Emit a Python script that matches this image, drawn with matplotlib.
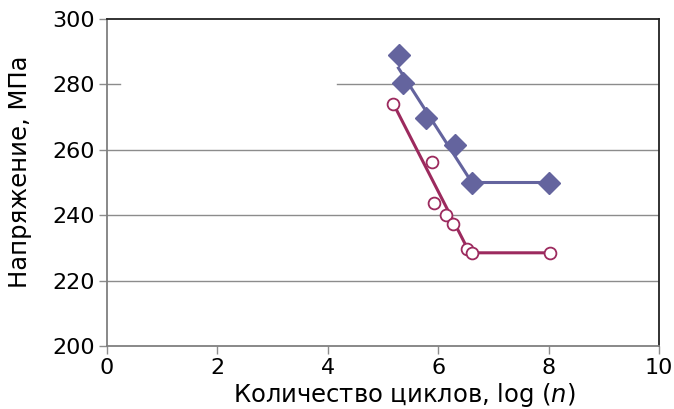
import matplotlib
matplotlib.use("Agg")
import matplotlib.pyplot as plt

# Data
blue_x = [5.29, 5.37, 5.78, 6.30, 6.61, 8.0]
blue_y = [289.0, 280.5, 269.6, 261.5, 250.0, 250.0]
blue_line_x = [5.28, 6.61, 8.0]
blue_line_y = [285.0, 250.0, 250.0]

red_x = [5.19, 5.88, 5.93, 6.14, 6.26, 6.53, 6.62, 8.03]
red_y = [274.0, 256.4, 243.8, 240.0, 237.2, 229.6, 228.5, 228.5]
red_line_x = [5.19, 6.57, 8.0]
red_line_y = [274.0, 228.5, 228.5]

xticks = [0, 2, 4, 6, 8, 10]
yticks = [200, 220, 240, 260, 280, 300]

blue = "#64649E"
red = "#9C2A5E"
grid_c = "#8C8C8C"

plt.rcParams['font.family'] = ['DejaVu Sans']

fig = plt.figure(figsize=(6.74, 4.09), dpi=100)
ax = fig.add_axes([107/674, 1 - 346/409, (659-107)/674, (346-19)/409])

ax.set_xlim(0, 10)
ax.set_ylim(200, 300)

# gridlines (280 partially hidden as in original)
for yv in [220, 240, 260]:
    ax.plot([0, 10], [yv, yv], color=grid_c, lw=1.0, zorder=1)
ax.plot([0, 0.24], [280, 280], color=grid_c, lw=1.0, zorder=1)
ax.plot([4.17, 10], [280, 280], color=grid_c, lw=1.0, zorder=1)

ax.plot(blue_line_x, blue_line_y, color=blue, lw=2.2, zorder=2)
ax.plot(red_line_x, red_line_y, color=red, lw=2.2, zorder=2)
ax.plot(blue_x, blue_y, linestyle='none', marker='D', ms=11, color=blue, zorder=3)
ax.plot(red_x, red_y, linestyle='none', marker='o', ms=8.5, mfc='white',
        mec=red, mew=1.3, zorder=3)

ax.set_xticks(xticks)
ax.set_yticks(yticks)
ax.set_xticklabels([str(v) for v in xticks], fontsize=16)
ax.set_yticklabels([str(v) for v in yticks], fontsize=16)
ax.tick_params(axis='both', direction='out', length=6, width=1, color=grid_c, pad=3)

for side in ['left', 'bottom']:
    ax.spines[side].set_color('#7F7F7F')
    ax.spines[side].set_linewidth(1.3)
for side in ['top', 'right']:
    ax.spines[side].set_color('#222222')
    ax.spines[side].set_linewidth(1.3)

fig.text(404/674, 1 - 395/409, "Количество циклов, log ($\\it{n}$)",
         ha='center', va='center', fontsize=17.5)
fig.text(20/674, 1 - 172/409, "Напряжение, МПа", rotation=90,
         ha='center', va='center', fontsize=17.5)

fig.savefig("out.png", dpi=100)
